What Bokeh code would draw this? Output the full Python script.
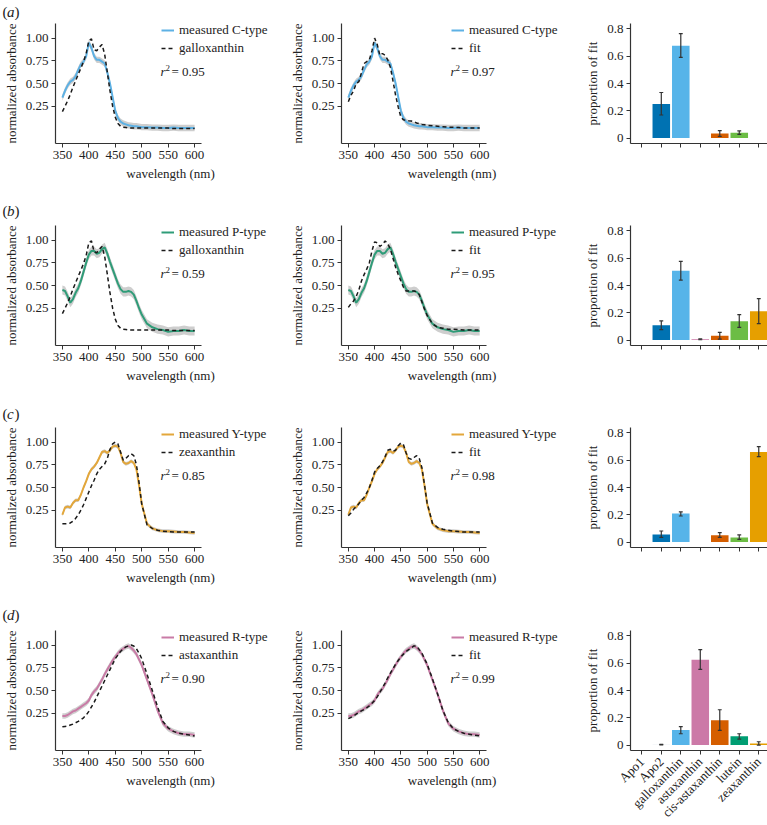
from math import pi
from bokeh.plotting import figure
from bokeh.layouts import column, row
from bokeh.models import Label, Legend, LegendItem, FixedTicker, NumeralTickFormatter
from bokeh.embed import file_html
from bokeh.resources import INLINE

FONT = "Liberation Serif"

# ---------------- data ----------------
WL = [350, 355, 360, 365, 370, 375, 380, 385, 390, 395, 400, 405, 410, 415, 420, 425, 430, 435,
      440, 445, 450, 455, 460, 465, 470, 475, 480, 485, 490, 495, 500,
      510, 520, 530, 540, 550, 560, 570, 580, 590, 600]

meas_C = [0.345, 0.42, 0.48, 0.52, 0.54, 0.58, 0.65, 0.71, 0.74, 0.80, 0.95, 0.89, 0.80, 0.76, 0.76, 0.74, 0.72, 0.62,
          0.50, 0.35, 0.20, 0.12, 0.08, 0.06, 0.05, 0.04, 0.035, 0.03, 0.03, 0.025, 0.02,
          0.02, 0.015, 0.015, 0.01, 0.01, 0.015, 0.01, 0.01, 0.01, 0.01]
galloxanthin = [0.19, 0.25, 0.31, 0.38, 0.46, 0.53, 0.60, 0.67, 0.74, 0.83, 0.97, 0.99, 0.87, 0.86, 0.90, 0.93, 0.82, 0.62,
                0.42, 0.25, 0.13, 0.06, 0.03, 0.02, 0.015, 0.01, 0.01, 0.01, 0.01, 0.01, 0.01,
                0.01, 0.01, 0.01, 0.01, 0.01, 0.005, 0.005, 0.005, 0.005, 0.005]
fit_C = [0.30, 0.37, 0.42, 0.50, 0.52, 0.62, 0.72, 0.74, 0.76, 0.86, 1.00, 0.93, 0.81, 0.83, 0.81, 0.76, 0.68, 0.53,
         0.37, 0.24, 0.13, 0.10, 0.095, 0.09, 0.088, 0.08, 0.066, 0.058, 0.05, 0.045, 0.04,
         0.035, 0.03, 0.025, 0.02, 0.02, 0.015, 0.01, 0.01, 0.01, 0.01]

meas_P = [0.45, 0.44, 0.38, 0.31, 0.35, 0.42, 0.47, 0.55, 0.65, 0.75, 0.84, 0.88, 0.88, 0.85, 0.86, 0.90, 0.92, 0.85,
          0.76, 0.68, 0.60, 0.52, 0.46, 0.43, 0.43, 0.44, 0.43, 0.40, 0.33, 0.25, 0.18,
          0.08, 0.04, 0.02, 0.01, -0.01, 0.0, 0.0, 0.01, 0.0, 0.0]
fit_P = [0.26, 0.30, 0.33, 0.38, 0.45, 0.55, 0.62, 0.68, 0.75, 0.88, 0.98, 0.97, 0.93, 0.95, 0.99, 0.96, 0.90, 0.80,
         0.70, 0.62, 0.55, 0.48, 0.44, 0.44, 0.44, 0.44, 0.43, 0.40, 0.32, 0.24, 0.17,
         0.08, 0.04, 0.03, 0.02, 0.02, 0.015, 0.01, 0.01, 0.01, 0.01]

meas_Y = [0.20, 0.28, 0.29, 0.28, 0.33, 0.36, 0.36, 0.42, 0.50, 0.57, 0.65, 0.70, 0.73, 0.77, 0.83, 0.89, 0.90, 0.88,
          0.91, 0.95, 0.96, 0.95, 0.88, 0.78, 0.76, 0.77, 0.79, 0.77, 0.70, 0.52, 0.32,
          0.10, 0.05, 0.03, 0.02, 0.02, 0.015, 0.01, 0.01, 0.005, 0.0]
zeaxanthin = [0.10, 0.10, 0.10, 0.11, 0.13, 0.16, 0.20, 0.25, 0.31, 0.38, 0.45, 0.52, 0.58, 0.65, 0.70, 0.73, 0.76, 0.82,
              0.92, 0.98, 1.00, 0.98, 0.89, 0.80, 0.82, 0.85, 0.87, 0.85, 0.75, 0.55, 0.32,
              0.09, 0.05, 0.03, 0.02, 0.015, 0.01, 0.01, 0.01, 0.01, 0.01]
fit_Y = [0.19, 0.22, 0.26, 0.29, 0.32, 0.36, 0.39, 0.44, 0.50, 0.58, 0.67, 0.71, 0.74, 0.78, 0.84, 0.91, 0.92, 0.90,
         0.91, 0.96, 0.99, 0.97, 0.88, 0.82, 0.81, 0.83, 0.85, 0.82, 0.72, 0.53, 0.33,
         0.11, 0.06, 0.04, 0.03, 0.02, 0.015, 0.01, 0.01, 0.01, 0.01]

meas_R = [0.22, 0.22, 0.23, 0.25, 0.27, 0.28, 0.30, 0.32, 0.34, 0.36, 0.39, 0.45, 0.49, 0.52, 0.57, 0.62, 0.68, 0.73,
          0.78, 0.83, 0.87, 0.91, 0.94, 0.96, 0.98, 0.99, 0.97, 0.94, 0.90, 0.84, 0.78,
          0.62, 0.46, 0.28, 0.14, 0.08, 0.05, 0.03, 0.02, 0.02, 0.01]
astaxanthin = [0.10, 0.105, 0.11, 0.12, 0.13, 0.145, 0.16, 0.18, 0.20, 0.23, 0.27, 0.32, 0.37, 0.43, 0.49, 0.55, 0.61, 0.67,
               0.73, 0.79, 0.85, 0.89, 0.93, 0.96, 0.98, 0.99, 1.00, 0.99, 0.96, 0.91, 0.85,
               0.68, 0.50, 0.32, 0.16, 0.09, 0.05, 0.03, 0.02, 0.01, 0.0]
fit_R = [0.19, 0.205, 0.22, 0.24, 0.26, 0.275, 0.29, 0.31, 0.33, 0.36, 0.39, 0.43, 0.48, 0.53, 0.58, 0.64, 0.69, 0.74,
         0.79, 0.83, 0.87, 0.90, 0.93, 0.95, 0.97, 0.99, 0.99, 0.95, 0.91, 0.85, 0.79,
         0.63, 0.46, 0.28, 0.15, 0.08, 0.05, 0.03, 0.02, 0.01, 0.0]

BAND = [0.035, 0.05, 0.02, 0.03]   # half-width of grey ribbon per row

TYPES = ["measured C-type", "measured P-type", "measured Y-type", "measured R-type"]
REFS = ["galloxanthin", "galloxanthin", "zeaxanthin", "astaxanthin"]
R2_REF = ["0.95", "0.59", "0.85", "0.90"]
R2_FIT = ["0.97", "0.95", "0.98", "0.99"]
LINE_COLORS = ["#5DB1E4", "#2F9C78", "#E3A73B", "#C97BA6"]
LETTERS = ["a", "b", "c", "d"]

CATS = ["Apo1", "Apo2", "galloxanthin", "astaxanthin", "cis-astaxanthin", "lutein", "zeaxanthin"]
prop_a = [0, 0.25, 0.677, 0, 0.034, 0.039, 0]
low_a = [0, 0.169, 0.591, 0, 0.012, 0.027, 0]
high_a = [0, 0.334, 0.766, 0, 0.054, 0.052, 0]
prop_b = [0, 0.108, 0.508, 0.005, 0.032, 0.137, 0.211]
low_b = [0, 0.076, 0.44, 0.002, 0.007, 0.093, 0.12]
high_b = [0, 0.14, 0.577, 0.008, 0.056, 0.187, 0.304]
prop_c = [0, 0.056, 0.209, 0, 0.049, 0.034, 0.66]
low_c = [0, 0.034, 0.191, 0, 0.034, 0.02, 0.626]
high_c = [0, 0.081, 0.221, 0, 0.069, 0.052, 0.70]
prop_d = [0, 0.003, 0.11, 0.626, 0.181, 0.064, 0.012]
low_d = [0, 0.001, 0.083, 0.555, 0.108, 0.044, 0.0]
high_d = [0, 0.005, 0.135, 0.70, 0.259, 0.083, 0.024]
BAR_COLORS_ABC = ["#0072B2", "#0072B2", "#56B4E9", "#CC79A7", "#D55E00", "#6CBD45", "#E69F00"]
BAR_COLORS_D = ["#0072B2", "#D9E3EA", "#56B4E9", "#CC79A7", "#D55E00", "#009E73", "#E69F00"]

# ---------------- layout ----------------
X0, X1 = 337, 613          # visible wavelength axis
Y0, Y1 = -0.16, 1.16
BX0, BX1 = 0.42, 7.5
BY0, BY1 = -0.04, 0.84
FRAME_H = 120
AXIS_PX = [146, 145]       # pixel length of the wavelength axis in column 1, 2
FRAME_W = [230, 221, 138]  # full frame widths (spectra frames extend under legend)
LEFT = [53, 56, 68]
STRIP_H = [20, 19, 19, 19]
LETTER_C = [11, 9, 9, 9]
TOP = [3, 5, 4, 6]
BOTTOM = [58, 59, 58, 74]
TOTAL_W = sum(LEFT) + sum(FRAME_W)


def xext(ci):
    return X0 + FRAME_W[ci] * (X1 - X0) / AXIS_PX[ci]


def px_x(ci, px):
    return X0 + px * (X1 - X0) / AXIS_PX[ci]


def px_y(px_from_top):
    return Y1 - px_from_top * (Y1 - Y0) / FRAME_H


def style(p):
    p.outline_line_color = None
    p.xgrid.visible = False
    p.ygrid.visible = False
    p.background_fill_color = "white"
    p.border_fill_color = "white"
    for ax in (p.xaxis[0], p.yaxis[0]):
        ax.axis_line_color = "#333333"
        ax.axis_line_width = 1.2
        ax.major_tick_line_color = "#333333"
        ax.major_tick_line_width = 1
        ax.major_tick_out = 4
        ax.major_tick_in = 0
        ax.minor_tick_line_color = None
        ax.major_label_text_font = FONT
        ax.major_label_text_font_size = "13px"
        ax.major_label_text_color = "#222222"
        ax.axis_label_text_font = FONT
        ax.axis_label_text_font_size = "13px"
        ax.axis_label_text_font_style = "normal"
        ax.axis_label_text_color = "#222222"
        ax.major_label_standoff = 3
        ax.axis_label_standoff = 4


def lbl(p, x, y, text, size="13px", style_="normal", align="left", baseline="middle"):
    p.add_layout(Label(x=x, y=y, text=text, text_font=FONT, text_font_size=size,
                       text_font_style=style_, text_color="#222222", text_align=align,
                       text_baseline=baseline))


def spec_fig(ri, ci, meas, dash, color, name1, name2, r2):
    p = figure(frame_width=FRAME_W[ci], frame_height=FRAME_H, x_range=(X0, xext(ci)), y_range=(Y0, Y1),
               output_backend="svg", toolbar_location=None,
               min_border_left=LEFT[ci], min_border_right=0,
               min_border_top=TOP[ri], min_border_bottom=BOTTOM[ri])
    style(p)
    p.xaxis.bounds = (X0, X1)
    p.xaxis.axis_label = "wavelength (nm)"
    p.yaxis.axis_label = "normalized absorbance"
    p.xaxis.ticker = FixedTicker(ticks=[350, 400, 450, 500, 550, 600])
    p.yaxis.ticker = FixedTicker(ticks=[0.25, 0.5, 0.75, 1.0])
    p.yaxis.formatter = NumeralTickFormatter(format="0.00")
    lo = [m - BAND[ri] for m in meas]
    hi = [m + BAND[ri] for m in meas]
    p.varea(x=WL, y1=lo, y2=hi, fill_color="#BDBDBD", fill_alpha=0.75)
    rm = p.line(WL, meas, line_color=color, line_width=2)
    rd = p.line(WL, dash, line_color="#1A1A1A", line_width=1.5, line_dash="4 3")
    leg_x = 106 if ci == 0 else 110
    leg = Legend(items=[LegendItem(label=name1, renderers=[rm]), LegendItem(label=name2, renderers=[rd])],
                 location=(leg_x, 86), orientation="vertical", padding=0, margin=0, spacing=0,
                 glyph_width=13, glyph_height=18, label_height=18, label_standoff=5,
                 label_text_font=FONT, label_text_font_size="13px", label_text_color="#222222",
                 border_line_color=None, background_fill_alpha=0)
    p.add_layout(leg)
    rx = 105 if ci == 0 else 109
    lbl(p, px_x(ci, rx), px_y(48), "r", style_="italic")
    lbl(p, px_x(ci, rx + 5), px_y(44), "2", size="9px")
    lbl(p, px_x(ci, rx + 11), px_y(48), "= " + r2)
    return p


def bar_fig(ri, vals, low, high, colors, show_labels):
    p = figure(frame_width=FRAME_W[2], frame_height=FRAME_H, x_range=(BX0, BX1), y_range=(BY0, BY1),
               output_backend="svg", toolbar_location=None,
               min_border_left=LEFT[2], min_border_right=0,
               min_border_top=TOP[ri], min_border_bottom=BOTTOM[ri])
    style(p)
    p.yaxis.axis_label = "proportion of fit"
    xs = list(range(1, len(CATS) + 1))
    p.xaxis.ticker = FixedTicker(ticks=xs)
    if show_labels:
        p.xaxis.major_label_overrides = {x: c for x, c in zip(xs, CATS)}
        p.xaxis.major_label_orientation = pi / 4
        p.xaxis.major_label_standoff = 5
    else:
        p.xaxis.major_label_overrides = {x: "" for x in xs}
    p.yaxis.ticker = FixedTicker(ticks=[0, 0.2, 0.4, 0.6, 0.8])
    p.yaxis.major_label_overrides = {0: "0", 0.2: "0.2", 0.4: "0.4", 0.6: "0.6", 0.8: "0.8"}
    p.vbar(x=xs, top=vals, bottom=0, width=0.9, fill_color=colors, line_color=None)
    ex = [x for x, v in zip(xs, vals) if v > 0]
    el = [l for l, v in zip(low, vals) if v > 0]
    eh = [h for h, v in zip(high, vals) if v > 0]
    cap = 0.1
    p.segment(x0=ex, y0=el, x1=ex, y1=eh, line_color="#333333", line_width=1.2)
    p.segment(x0=[x - cap for x in ex], y0=eh, x1=[x + cap for x in ex], y1=eh, line_color="#333333", line_width=1.2)
    p.segment(x0=[x - cap for x in ex], y0=el, x1=[x + cap for x in ex], y1=el, line_color="#333333", line_width=1.2)
    return p


def strip(ri):
    h = STRIP_H[ri]
    p = figure(width=TOTAL_W, height=h, x_range=(0, TOTAL_W), y_range=(0, h), x_axis_type=None, y_axis_type=None,
               output_backend="svg", toolbar_location=None, min_border=0)
    p.outline_line_color = None
    p.grid.visible = False
    yc = h - LETTER_C[ri]
    lbl(p, 2, yc, "(", size="15px")
    lbl(p, 6.5, yc, LETTERS[ri], size="15px", style_="italic")
    lbl(p, 14, yc, ")", size="15px")
    return p


MEAS = [meas_C, meas_P, meas_Y, meas_R]
REFC = [galloxanthin, galloxanthin, zeaxanthin, astaxanthin]
FITS = [fit_C, fit_P, fit_Y, fit_R]
PROPS = [prop_a, prop_b, prop_c, prop_d]
LOWS = [low_a, low_b, low_c, low_d]
HIGHS = [high_a, high_b, high_c, high_d]

blocks = []
for ri in range(4):
    p1 = spec_fig(ri, 0, MEAS[ri], REFC[ri], LINE_COLORS[ri], TYPES[ri], REFS[ri], R2_REF[ri])
    p2 = spec_fig(ri, 1, MEAS[ri], FITS[ri], LINE_COLORS[ri], TYPES[ri], "fit", R2_FIT[ri])
    colors = BAR_COLORS_D if ri == 3 else BAR_COLORS_ABC
    p3 = bar_fig(ri, PROPS[ri], LOWS[ri], HIGHS[ri], colors, ri == 3)
    blocks.append(strip(ri))
    blocks.append(row(p1, p2, p3))

layout = column(*blocks)
open("out.html", "w").write(file_html(layout, INLINE))
